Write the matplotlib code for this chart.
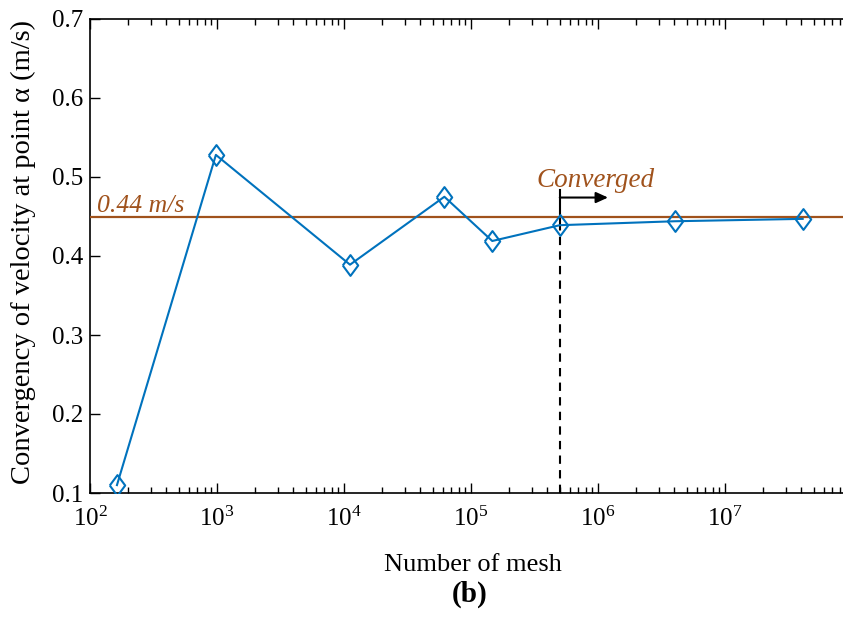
import matplotlib
matplotlib.use("Agg")
import matplotlib.pyplot as plt
import numpy as np

plt.rcParams['font.family'] = ['Liberation Serif', 'DejaVu Serif']
plt.rcParams['mathtext.fontset'] = 'custom'
plt.rcParams['mathtext.rm'] = 'Liberation Serif'
plt.rcParams['mathtext.it'] = 'Liberation Serif:italic'
plt.rcParams['mathtext.bf'] = 'Liberation Serif:bold'

# data
mesh_counts = [163, 980, 11150, 61700, 147000, 500000, 4.04e6, 4.09e7]
velocity = [0.110, 0.528, 0.389, 0.475, 0.419, 0.439, 0.444, 0.447]
converged_value = 0.449
converged_index = 5
ref_label = "0.44 m/s"
y_ticks = [0.1, 0.2, 0.3, 0.4, 0.5, 0.6, 0.7]

W, H = 843, 617
fig = plt.figure(figsize=(W / 100, H / 100), dpi=100)
left, right, top, bottom = 90, 852, 19, 493
ax = fig.add_axes([left / W, (H - bottom) / H, (right - left) / W, (bottom - top) / H])

blue = '#0072BD'
brown = '#A0521C'

diamond = [(-0.37, 0), (0, 0.5), (0.37, 0), (0, -0.5), (-0.37, 0)]
ax.plot(mesh_counts, velocity, color=blue, lw=1.5, marker=diamond, ms=15,
        mfc='none', mec=blue, mew=1.5, zorder=4)
ax.axhline(converged_value, color=brown, lw=1.6, zorder=3)

xc = mesh_counts[converged_index]
yc = velocity[converged_index]
ax.plot([xc, xc], [0.1, yc], color='black', lw=1.5, ls=(0, (4, 3)), zorder=2)
ax.plot([xc, xc], [yc, 0.483], color='black', lw=1.5, zorder=2)
ax.annotate('', xy=(xc * 10 ** 0.38, 0.474), xytext=(xc, 0.474),
            arrowprops=dict(arrowstyle='-|>,head_length=0.55,head_width=0.25',
                            color='black', lw=1.5,
                            mutation_scale=13, shrinkA=0, shrinkB=0))

ax.text(10 ** 5.984, 0.487, 'Converged', color=brown, fontsize=19.5,
        style='italic', ha='center', va='baseline')
ax.text(113, 0.4557, ref_label, color=brown, fontsize=18.5,
        style='italic', ha='left', va='baseline')

ax.set_xscale('log')
ax.set_xlim(1e2, 1e8)
ax.set_ylim(0.1, 0.7)
ax.set_yticks(y_ticks)
ax.set_yticklabels([f'{v:.1f}' for v in y_ticks])
ax.set_xticks([1e2, 1e3, 1e4, 1e5, 1e6, 1e7])
ax.set_xticklabels([r'$10^{%d}$' % k for k in range(2, 8)])

ax.tick_params(which='both', direction='in', top=True, right=False,
               labelsize=18, width=1.0)
ax.tick_params(which='major', length=7)
ax.tick_params(which='minor', length=4)
ax.tick_params(axis='x', pad=10)
ax.tick_params(axis='y', pad=5)
for s in ax.spines.values():
    s.set_linewidth(1.2)

fig.text(473 / W, 1 - 571 / H, 'Number of mesh', fontsize=19,
         ha='center', va='baseline')
fig.text(470 / W, 1 - 602 / H, '(b)', fontsize=21, fontweight='bold',
         ha='center', va='baseline')
fig.text(23 / W, 1 - 252 / H, 'Convergency of velocity at point α (m/s)',
         fontsize=20.5, rotation=90, ha='center', va='center')

fig.savefig('out.png', dpi=100)
